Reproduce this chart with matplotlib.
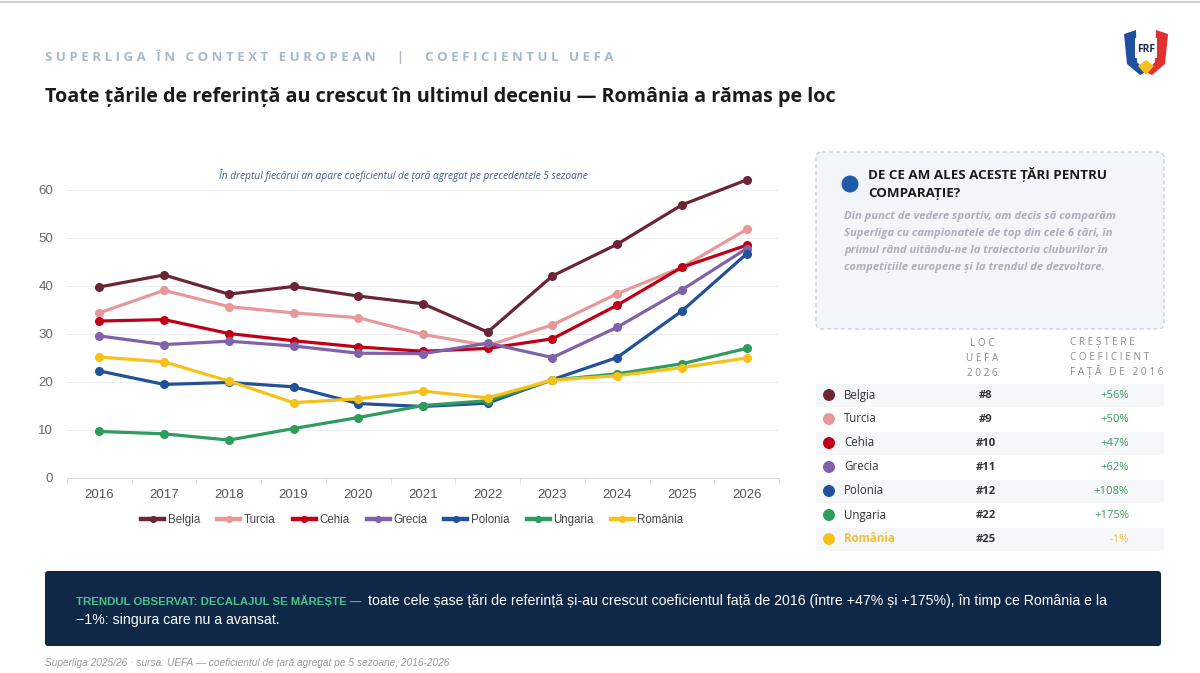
import matplotlib
matplotlib.use("Agg")
import matplotlib.pyplot as plt
from matplotlib.patches import FancyBboxPatch, Rectangle, Circle, Polygon

W, H = 1200, 673
FONT = ["Open Sans", "DejaVu Sans"]
NARROW = ["Liberation Sans Narrow", "Liberation Sans", "DejaVu Sans"]
plt.rcParams["font.family"] = FONT

# ---- data ----
years = [2016, 2017, 2018, 2019, 2020, 2021, 2022, 2023, 2024, 2025, 2026]
countries = ["Belgia", "Turcia", "Cehia", "Grecia", "Polonia", "Ungaria", "România"]
belgia = [39.8, 42.3, 38.3, 39.9, 37.9, 36.3, 30.4, 42.1, 48.7, 56.9, 62.1]
turcia = [34.4, 39.1, 35.7, 34.4, 33.4, 29.9, 27.6, 31.9, 38.4, 43.9, 51.8]
cehia = [32.7, 33.0, 30.1, 28.6, 27.3, 26.4, 27.0, 29.0, 36.0, 43.9, 48.5]
grecia = [29.6, 27.8, 28.5, 27.5, 26.0, 25.9, 28.1, 25.1, 31.4, 39.2, 47.8]
polonia = [22.3, 19.5, 19.9, 19.0, 15.5, 14.9, 15.6, 20.5, 25.1, 34.8, 46.7]
ungaria = [9.7, 9.2, 7.9, 10.3, 12.6, 15.1, 16.1, 20.4, 21.7, 23.8, 27.0]
romania = [25.2, 24.2, 20.2, 15.7, 16.5, 18.1, 16.7, 20.4, 21.3, 23.0, 25.0]
series = [belgia, turcia, cehia, grecia, polonia, ungaria, romania]
colors = ["#6b2535", "#e8989a", "#c00016", "#8062aa", "#21519a", "#2e9c5c", "#f6c21a"]
ranks = ["#8", "#9", "#10", "#11", "#12", "#22", "#25"]
growth = ["+56%", "+50%", "+47%", "+62%", "+108%", "+175%", "-1%"]
yticks = [0, 10, 20, 30, 40, 50, 60]

fig = plt.figure(figsize=(W / 100, H / 100), dpi=100)
bg = fig.add_axes([0, 0, 1, 1], zorder=0)
bg.set_xlim(0, W)
bg.set_ylim(H, 0)
bg.axis("off")

# top rule
bg.plot([0, W], [2, 2], color="#cfcfcf", lw=1.5)

# header (letter-spaced)
def spaced(s):
    return "   ".join(" ".join(w) for w in s.split(" "))
head = spaced("SUPERLIGA ÎN CONTEXT EUROPEAN") + "      |      " + spaced("COEFICIENTUL UEFA")
bg.text(45, 57, head, fontsize=9.5, color="#a8b8cc", fontweight="bold", va="center")
bg.text(45, 97, "Toate țările de referință au crescut în ultimul deceniu — România a rămas pe loc",
        fontsize=14.2, fontweight="bold", color="#1b1b1b", va="center")

# logo
bg.add_patch(Polygon([[1124, 34], [1136, 30], [1137, 62], [1146, 72], [1140, 75], [1127, 64]],
                     color="#1f4fa0", lw=0))
bg.add_patch(Polygon([[1168, 34], [1156, 30], [1155, 62], [1146, 72], [1152, 75], [1165, 64]],
                     color="#e03030", lw=0))
bg.add_patch(Polygon([[1138, 66], [1146, 60], [1154, 66], [1146, 75]], color="#f6c21a", lw=0))
bg.add_patch(Rectangle((1135, 38), 22, 20, color="white", lw=0))
bg.text(1146, 49, "FRF", fontsize=7.5, fontweight="bold", color="#1b2c5a", ha="center", va="center")

# ---- line chart ----
ax = fig.add_axes([67 / W, 1 - 478 / H, 712 / W, 64 * 4.8 / H], zorder=2)
ax.patch.set_alpha(0)
for name, vals, c in zip(countries, series, colors):
    ax.plot(years, vals, color=c, lw=2.3, marker="o", ms=5.5, label=name, clip_on=False)
ax.set_xlim(2015.5, 2026.5)
ax.set_ylim(0, 64)
ax.set_yticks(yticks)
ax.set_xticks(years)
ax.set_xticks([y + 0.5 for y in years[:-1]] + [2015.5, 2026.5], minor=True)
ax.grid(axis="y", color="#eeeeee", lw=0.8)
ax.set_axisbelow(True)
for s in ["top", "right", "left"]:
    ax.spines[s].set_visible(False)
ax.spines["bottom"].set_color("#dddddd")
ax.tick_params(axis="y", length=0, pad=10, labelsize=9.5, labelcolor="#666666")
ax.tick_params(axis="x", which="major", length=0, pad=8, labelsize=9.5, labelcolor="#555555")
ax.tick_params(axis="x", which="minor", length=4, color="#dddddd")
for lab in ax.get_xticklabels() + ax.get_yticklabels():
    lab.set_family(NARROW)
ax.text(2020.7, 63, "În dreptul fiecărui an apare coeficientul de țară agregat pe precedentele 5 sezoane",
        fontsize=7.3, style="italic", color="#3d5d8e", ha="center", va="center")
leg = ax.legend(loc="upper center", bbox_to_anchor=(0.485, -0.085), ncol=7, frameon=False,
                fontsize=8.3, handlelength=2.0, handletextpad=0.3, columnspacing=1.5, markerscale=0.75)
for t in leg.get_texts():
    t.set_color("#444444")
    t.set_family(NARROW)
for h in leg.legend_handles:
    h.set_linewidth(3.2)

# ---- right info box ----
bg.add_patch(FancyBboxPatch((816, 152), 348, 177, boxstyle="round,pad=0,rounding_size=6",
                            fc="#f2f5fa", ec="#c9d2de", lw=1, ls=(0, (3, 2))))
bg.add_patch(Circle((850, 184), 8.5, color="#1f5aab", lw=0))
bg.text(868, 174, "DE CE AM ALES ACESTE ȚĂRI PENTRU", fontsize=9.6, fontweight="bold",
        color="#1b1b1b", va="center")
bg.text(868, 193, "COMPARAȚIE?", fontsize=9.6, fontweight="bold", color="#1b1b1b", va="center")
body = ["Din punct de vedere sportiv, am decis să comparăm",
        "Superliga cu campionatele de top din cele 6 țări, în",
        "primul rând uitându-ne la traiectoria cluburilor în",
        "competițiile europene și la trendul de dezvoltare."]
for i, line in enumerate(body):
    bg.text(844, 217 + i * 16.7, line, fontsize=8.1, fontweight="bold", style="italic",
            color="#a8b0bc", va="center")

# ---- table ----
for i, line in enumerate(["L O C", "U E F A", "2 0 2 6"]):
    bg.text(982, 344 + i * 14.5, line, fontsize=7.2, color="#8a8a8a", ha="center", va="center")
for i, line in enumerate(["C R E Ș T E R E", "C O E F I C I E N T", "F A Ț Ă   D E   2 0 1 6"]):
    bg.text(1070, 343 + i * 14.5, line, fontsize=7.2, color="#8a8a8a", ha="left", va="center")
for i, (name, c, r, g) in enumerate(zip(countries, colors, ranks, growth)):
    y = 395 + i * 24
    if i % 2 == 0:
        bg.add_patch(Rectangle((816, y - 11.5), 348, 23, color="#f6f7f9", lw=0))
    bg.add_patch(Circle((829, y), 6, color=c, lw=0))
    is_ro = name == "România"
    bg.text(844, y, name, fontsize=8.3, color="#f3c234" if is_ro else "#333333",
            fontweight="bold" if is_ro else "normal", va="center")
    bg.text(986, y, r, fontsize=8.1, fontweight="bold", color="#333333", ha="center", va="center")
    bg.text(1129, y, g, fontsize=8.1, color="#f3c234" if is_ro else "#3e9a5e", ha="right", va="center")

# ---- bottom insight bar ----
bg.add_patch(FancyBboxPatch((45, 571), 1116, 75, boxstyle="round,pad=0,rounding_size=3",
                            fc="#0f2848", ec="none"))
g_txt = bg.text(76, 601, "TRENDUL OBSERVAT: DECALAJUL SE MĂREȘTE —", fontsize=8.2, fontweight="bold",
                color="#4cc38c", va="center", family=NARROW)
fig.canvas.draw()
bb = g_txt.get_window_extent(fig.canvas.get_renderer())
bg.text(bb.x1 + 7, 601, "toate cele șase țări de referință și-au crescut coeficientul față de 2016 "
        "(între +47% și +175%), în timp ce România e la", fontsize=10.15, color="white",
        va="center", family=NARROW)
bg.text(76, 620, "−1%: singura care nu a avansat.", fontsize=10.15, color="white", va="center",
        family=NARROW)

bg.text(45, 663, "Superliga 2025/26 · sursa: UEFA — coeficientul de țară agregat pe 5 sezoane, 2016-2026",
        fontsize=7.3, style="italic", color="#9a9a9a", va="center", family=NARROW)

fig.savefig("out.png", dpi=100)
